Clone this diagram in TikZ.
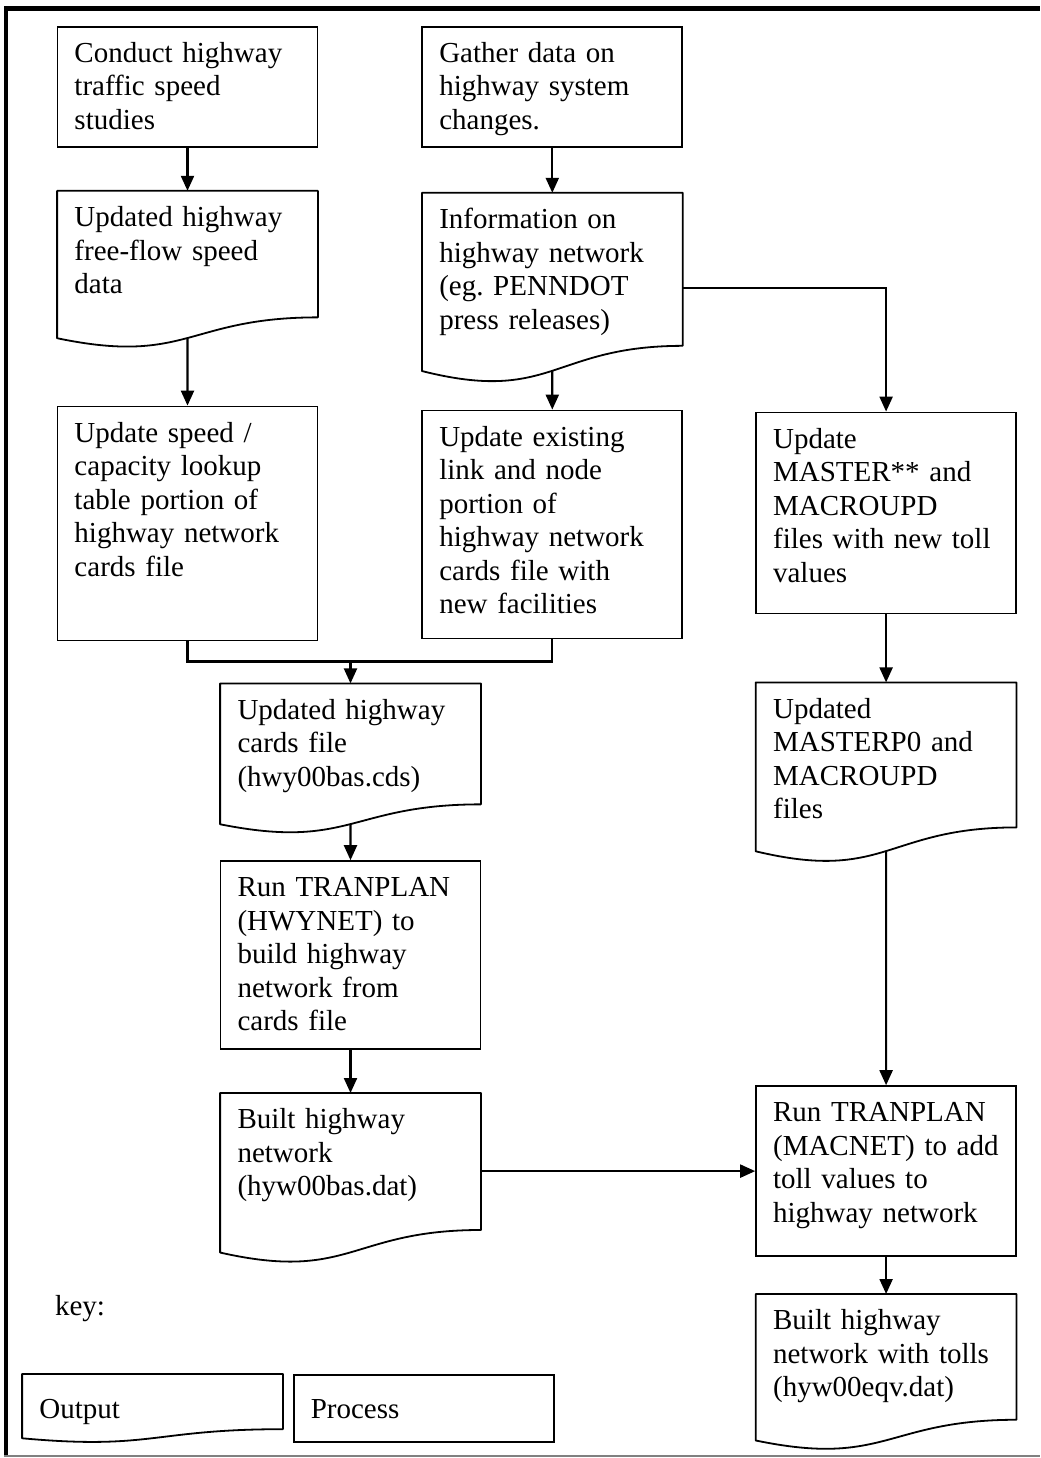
\documentclass[tikz,border=0pt]{standalone}
\usepackage{fontspec}
\setmainfont{Liberation Serif}
\usetikzlibrary{positioning, calc, arrows.meta}

\tikzstyle{process} = [rectangle, draw=black, line width=0.9pt, text width=113pt, inner xsep=8.5pt, inner ysep=0pt, align=left, text height=17.75pt]
\tikzstyle{output} = [rectangle, text width=113pt, inner xsep=8.5pt, inner ysep=0pt, align=left, text height=17.75pt]
\tikzstyle{docline} = [line width=0.9pt, line join=round]
\tikzstyle{line} = [line width=1.1pt]
\tikzstyle{arrow} = [line width=1.1pt, -{Triangle[length=7.5pt,width=6.5pt]}]

% page with a wavy bottom edge, drawn round an output node
\newcommand{\docshape}[1]{%
  \draw[docline] (#1.north west) -- (#1.north east)
    -- ($(#1.north east)!0.802!(#1.south east)$)
    .. controls ($(#1.north)!0.802!(#1.south)$) and ($(#1.north)!1.107!(#1.south)$)
    .. ($(#1.north west)!0.934!(#1.south west)$) -- cycle;
  \coordinate (#1-w) at ($(#1.north)!0.933!(#1.south)$);}

\begin{document}
\begin{tikzpicture}[font=\fontsize{14.5pt}{16.75pt}\selectfont\frenchspacing]

\useasboundingbox (0,0) rectangle (520pt,-729pt);

% Frame
\draw[line width=2.5pt] (2pt,-4.25pt) -- (520pt,-4.25pt);
\draw[line width=2pt] (3pt,-3pt) -- (3pt,-728pt);
\draw[gray, line width=0.6pt] (2pt,-728pt) -- (520pt,-728pt);

% Nodes
\node (studies) [process, anchor=north, text depth=42.25pt] at (93.75pt,-13pt) {Conduct highway\\traffic speed\\studies};
\node (freeflow) [output, below=21.5pt of studies, text depth=60.75pt] {Updated highway\\free-flow speed\\data};
\node (speedtable) [process, below=28.5pt of freeflow, text depth=99.25pt] {Update speed /\\capacity lookup\\table portion of\\highway network\\cards file};

\node (gather) [process, right=51.5pt of studies, text depth=42.25pt] {Gather data on\\highway system\\changes.};
\node (netinfo) [output, below=22.5pt of gather, text depth=77.25pt] {Information on\\highway network\\(eg. PENNDOT\\press releases)};
\node (linknode) [process, below=13pt of netinfo, text depth=96.25pt] {Update existing\\link and node\\portion of\\highway network\\cards file with\\new facilities};

\node (tollupdate) [process, right=36pt of linknode.north east, anchor=north west, yshift=-1pt, text depth=82.75pt] {Update\\MASTER** and\\MACROUPD\\files with new toll\\values};
\node (masterfiles) [output, below=34pt of tollupdate, text depth=72.25pt] {Updated\\MASTERP0 and\\MACROUPD\\files};
\node (macnet) [process, below=111pt of masterfiles, text depth=67.25pt] {Run TRANPLAN\\(MACNET) to add\\toll values to\\highway network};
\node (tollnet) [output, below=18.5pt of macnet, text depth=60.25pt] {Built highway\\network with tolls\\(hyw00eqv.dat)};

\node (cards) [output, below=21pt of speedtable.south, xshift=81.5pt, text depth=57.25pt] {Updated highway\\cards file\\(hwy00bas.cds)};
\node (hwynet) [process, below=13pt of cards, text depth=76.25pt] {Run TRANPLAN\\(HWYNET) to\\build highway\\network from\\cards file};
\node (builtnet) [output, below=21.5pt of hwynet, text depth=67.25pt] {Built highway\\network\\(hyw00bas.dat)};

% Key
\node (keylabel) [anchor=base west] at (24pt,-657.5pt) {key:};
\node (keyout) [output, anchor=north, text height=22pt, text depth=12pt] at (76.25pt,-687pt) {Output};
\node (keyproc) [process, right=5pt of keyout.north east, anchor=north west, text height=22pt, text depth=11.5pt] {Process};

% Output pages
\docshape{freeflow}
\docshape{netinfo}
\docshape{masterfiles}
\docshape{tollnet}
\docshape{cards}
\docshape{builtnet}
\docshape{keyout}

% Arrows
\coordinate (merge) at ($(cards.north)+(0,11pt)$);
\draw [arrow] (studies.south) -- (freeflow.north);
\draw [arrow] (freeflow-w) -- (speedtable.north);
\draw [arrow] (gather.south) -- (netinfo.north);
\draw [arrow] (netinfo-w) -- (linknode.north);
\draw [arrow] (netinfo.east) -| (tollupdate.north);
\draw [line] (speedtable.south) |- (merge) -| (linknode.south);
\draw [arrow] (merge) -- (cards.north);
\draw [arrow] (cards-w) -- (hwynet.north);
\draw [arrow] (hwynet.south) -- (builtnet.north);
\draw [arrow] (builtnet.east |- macnet.west) -- (macnet.west);
\draw [arrow] (tollupdate.south) -- (masterfiles.north);
\draw [arrow] (masterfiles-w) -- (macnet.north);
\draw [arrow] (macnet.south) -- (tollnet.north);

\end{tikzpicture}
\end{document}
